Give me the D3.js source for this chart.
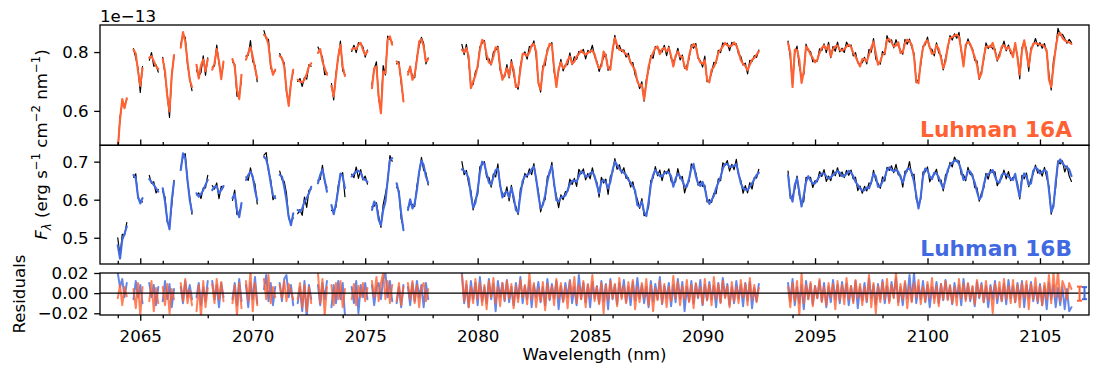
<!DOCTYPE html>
<html>
<head>
<meta charset="utf-8">
<script src="https://cdn.jsdelivr.net/npm/d3@7"></script>
<style>
  body { margin: 0; background: #fff; }
  svg { font-family: "DejaVu Sans", sans-serif; }
</style>
</head>
<body>
<svg id="chart" width="1112" height="371"></svg>
<script>
// spectrum chunks: start wavelength (nm) of each chunk, sampled every 0.1 nm
const segStart = [2064.0, 2064.7, 2065.4, 2066.0, 2066.8, 2067.5, 2068.2, 2069.1, 2069.7, 2070.5,
                  2071.2, 2072.0, 2072.9, 2073.5, 2074.4, 2075.3, 2076.4, 2076.9, 2079.3, 2093.8];
const waveStep = 0.1;

// model flux, units of 1e-16 erg s-1 cm-2 nm-1
const modelA = [
  [470, 570, 640, 609, 643],
  [808, 795, 735, 685, 745],
  [780, 786, 770, 752, 742],
  [776, 735, 650, 598, 720, 790],
  [815, 868, 836, 768, 706, 681],
  [757, 710, 755, 775, 735, 775],
  [740, 762, 810, 768, 708, 768],
  [776, 751, 672, 640, 723],
  [774, 797, 817, 785, 745, 711],
  [859, 851, 825, 757, 723, 740],
  [787, 780, 751, 672, 617, 694, 740],
  [706, 700, 697, 706, 726, 751, 762],
  [797, 810, 768, 745, 723],
  [685, 649, 717, 785, 825, 751, 719],
  [808, 814, 810, 825, 831, 808, 791, 802],
  [677, 745, 751, 649, 592, 734, 728, 842, 853, 825],
  [768, 757, 706, 632],
  [723, 751, 706, 723, 774, 836, 844, 819, 768, 776],
  [808, 799, 814, 785, 677, 700, 719, 753, 808, 842,
   831, 791, 765, 760, 785, 816, 814, 751, 706, 723,
   745, 717, 765, 740, 681, 683, 740, 794, 793, 787,
   799, 823, 828, 802, 694, 672, 742, 772, 802, 828,
   825, 745, 681, 742, 765, 745, 751, 772, 785, 760,
   768, 785, 794, 805, 797, 791, 797, 802, 805, 793,
   763, 745, 751, 802, 785, 745, 740, 808, 848, 825,
   808, 808, 800, 793, 785, 765, 751, 738, 700, 685,
   689, 638, 694, 751, 780, 797, 814, 819, 793, 810,
   814, 802, 814, 787, 751, 787, 802, 785, 783, 751,
   740, 787, 817, 828, 819, 783, 765, 760, 772, 706,
   697, 740, 749, 768, 797, 808, 819, 831, 823, 819,
   822, 833, 822, 802, 772, 760, 753, 738, 757, 774,
   780, 791, 802],
  [831, 797, 681, 808, 808, 774, 695, 734, 819, 810,
   791, 780, 765, 774, 797, 814, 822, 810, 823, 785,
   810, 819, 822, 808, 805, 810, 819, 825, 817, 797,
   785, 768, 751, 776, 776, 768, 791, 814, 836, 797,
   757, 768, 791, 797, 842, 844, 833, 819, 822, 833,
   797, 799, 831, 842, 837, 825, 785, 700, 694, 768,
   814, 833, 840, 817, 794, 797, 824, 810, 780, 745,
   768, 819, 848, 851, 856, 859, 853, 808, 751, 825,
   835, 828, 805, 783, 757, 711, 728, 783, 819, 819,
   817, 831, 802, 774, 785, 819, 823, 810, 817, 805,
   783, 831, 780, 723, 805, 840, 797, 751, 805, 828,
   831, 828, 825, 825, 819, 805, 706, 681, 751, 814,
   859, 865, 848, 840, 836, 833, 828]
];

const modelB = [
  [480, 445, 495, 510, 530],
  [665, 656, 608, 590, 604],
  [654, 647, 639, 630, 621],
  [630, 595, 547, 522, 599, 647],
  [678, 722, 709, 652, 599, 568],
  [617, 608, 615, 625, 639, 652],
  [625, 634, 636, 617, 625, 636],
  [604, 615, 573, 554, 591],
  [652, 665, 674, 661, 625, 599],
  [713, 706, 682, 643, 612, 604],
  [665, 661, 634, 599, 555, 533, 564],
  [573, 568, 577, 595, 604, 617, 634],
  [643, 665, 680, 652, 621],
  [586, 562, 590, 625, 669, 661, 630],
  [661, 668, 674, 676, 671, 656, 652, 647],
  [573, 595, 586, 547, 533, 573, 595, 652, 704, 709],
  [643, 617, 564, 520],
  [573, 601, 577, 590, 625, 674, 703, 691, 661, 645],
  [680, 676, 669, 656, 612, 579, 592, 625, 671, 700,
   694, 669, 645, 639, 659, 678, 682, 639, 606, 617,
   621, 606, 632, 608, 573, 566, 612, 650, 662, 665,
   669, 680, 687, 656, 612, 577, 586, 612, 647, 674,
   689, 643, 599, 595, 606, 608, 611, 625, 641, 650,
   650, 647, 662, 674, 671, 661, 661, 669, 673, 662,
   639, 617, 647, 652, 645, 630, 647, 678, 700, 691,
   682, 674, 671, 665, 652, 645, 636, 624, 586, 582,
   595, 568, 557, 595, 639, 665, 678, 669, 662, 661,
   669, 673, 671, 662, 634, 656, 668, 661, 650, 636,
   634, 656, 682, 694, 662, 643, 636, 647, 630, 601,
   589, 599, 610, 630, 645, 659, 682, 694, 694, 687,
   687, 689, 694, 669, 643, 630, 627, 625, 634, 643,
   654, 665, 671],
  [665, 612, 595, 639, 656, 621, 582, 612, 647, 662,
   650, 643, 643, 652, 662, 669, 669, 662, 656, 659,
   665, 669, 676, 671, 662, 662, 668, 676, 671, 662,
   647, 639, 630, 624, 625, 632, 630, 647, 669, 661,
   634, 636, 647, 659, 678, 685, 678, 675, 678, 674,
   659, 645, 665, 680, 682, 671, 647, 612, 577, 608,
   661, 682, 678, 661, 654, 671, 669, 659, 643, 630,
   652, 678, 691, 697, 702, 704, 694, 678, 652, 656,
   676, 674, 661, 645, 621, 601, 608, 639, 662, 668,
   671, 678, 661, 647, 645, 665, 669, 666, 661, 655,
   652, 668, 634, 608, 652, 669, 662, 639, 643, 676,
   685, 680, 669, 674, 678, 674, 625, 568, 582, 647,
   697, 706, 696, 689, 685, 680, 662]
];

// residuals (data - model), same units
const residA = [
  [-5, 8, -12, 6, -3],
  [4, -15, 10, -22, 6],
  [-8, 12, -18, 5, -10],
  [6, -12, 9, -20, 4, -6],
  [10, -8, 14, -10, 3, -12],
  [-18, 8, -24, 12, -14, 5],
  [9, -10, 14, -6, 11, -8],
  [-10, 8, -22, 10, -15],
  [12, -8, 22, -18, 10, -12],
  [14, -6, 18, -10, 6, -4],
  [8, -5, 12, -8, 9, 2, -6],
  [-6, 10, -14, 8, -18, 6, -10],
  [20, -10, 14, -22, 6],
  [8, -12, 10, -6, 12, -14, 4],
  [-6, 9, -12, 7, -4, 10, -8, 5],
  [12, -4, 16, -8, 10, 20, -6, 12, -10, 8],
  [-8, 10, -12, 6],
  [10, -6, 12, -10, 8, -14, 6, 10, -8, 4],
  [18, -8, 12, -14, 6, -10, 14, -6, 10, -12,
   8, -16, 12, -4, 15, -10, 6, -13, 10, -7,
   12, -5, 9, -15, 7, -9, 13, -4, 8, -11,
   20, -6, 10, -14, 5, -8, 11, -17, 9, -6,
   7, -12, 14, -5, 10, -9, 6, -15, 12, -3,
   16, -10, 8, -6, 12, -14, 9, -4, 18, -8,
   6, -11, 10, -20, 8, -7, 12, -5, 9, -13,
   15, -6, 7, -10, 11, -4, 13, -16, 6, -9,
   10, -5, 14, -12, 8, -18, 5, -7, 12, -10,
   9, -14, 6, -8, 17, -5, 11, -12, 7, -6,
   13, -9, 8, -15, 10, -4, 6, -11, 14, -7,
   8, -12, 16, -6, 9, -10, 12, -5, 7, -14,
   11, -8, 6, -10, 13, -4, 9, -12, 15, -6,
   8, -9, 5],
  [6, -14, 10, -8, 12, -22, 20, -10, 8, -6,
   11, -13, 7, -5, 14, -9, 6, -12, 10, -4,
   9, -16, 12, -7, 8, -11, 15, -6, 7, -10,
   13, -5, 9, -12, 6, -8, 18, -14, 10, -20,
   7, -9, 11, -6, 14, -10, 8, -5, 20, -12,
   9, -6, 12, -15, 7, -9, 10, -4, 13, -11,
   6, -8, 11, -5, 15, -10, 7, -13, 9, -6,
   12, -7, 8, -10, 6, -12, 14, -5, 9, -8,
   10, -6, 7, -11, 13, -4, 8, -9, 12, -7,
   6, -20, 9, -5, 11, -8, 14, -6, 7, -10,
   13, -9, 8, -14, 10, -5, 12, -16, 9, -6,
   15, -8, 7, -12, 10, -6, 18, -10, 20, -4,
   22, -8, 12, 6, -6, 10, 4]
];

const residB = [
  [20, 6, 14, -4, 10],
  [-6, 12, -4, 8, -10],
  [10, -4, 8, -12, 6],
  [-8, 12, -6, 9, -14, 4],
  [6, -10, 12, -4, 8, -6],
  [-4, 10, -12, 6, -8, 12],
  [12, -6, 8, -14, 10, -4],
  [-6, 10, -12, 14, -8],
  [8, -14, 10, -6, 16, -10],
  [4, 18, -8, 10, -12, 6],
  [10, -8, 14, 18, -4, 8, -12],
  [-10, 6, -18, 12, -24, 8, -6],
  [8, -12, 10, -6, 12],
  [-14, 8, -10, 12, -6, 10, -22],
  [6, -10, 12, -20, 8, -4, 10, -6],
  [8, -12, 6, 10, -6, 14, 20, -4, 12, -8],
  [-10, 6, -14, 8],
  [6, -12, 10, -8, 12, -4, 8, -14, 10, -6],
  [20, -10, 8, -14, 12, -6, 10, -12, 16, -8,
   6, -10, 14, -6, 9, -18, 12, -4, 10, -8,
   13, -9, 6, -12, 10, -5, 16, -10, 7, -6,
   12, -14, 8, -4, 11, -9, 6, -12, 14, -7,
   9, -5, 12, -16, 7, -8, 10, -4, 13, -10,
   6, -12, 18, -6, 10, -9, 8, -14, 11, -5,
   7, -10, 12, -8, 9, -16, 14, -6, 8, -11,
   10, -4, 13, -9, 6, -12, 11, -7, 15, -5,
   8, -10, 6, -14, 12, -8, 9, -6, 16, -11,
   7, -5, 10, -13, 8, -9, 14, -6, 11, -18,
   6, -8, 12, -10, 9, -5, 13, -12, 8, -7,
   11, -6, 7, -14, 10, -9, 15, -4, 9, -12,
   6, -10, 12, -5, 8, -13, 10, -7, 11, -15,
   5, -8, 9],
  [10, -8, 14, -12, 6, -10, 8, -16, 12, -6,
   9, -11, 7, -5, 12, -8, 10, -14, 6, -9,
   13, -6, 8, -10, 11, -4, 9, -12, 7, -8,
   12, -15, 6, -7, 10, -9, 14, -5, 8, -11,
   9, -6, 13, -10, 7, -8, 11, -4, 15, -9,
   6, -12, 10, -5, 18, -8, 20, -10, 7, -6,
   12, -9, 8, -14, 6, -5, 11, -10, 9, -7,
   13, -6, 7, -11, 10, -4, 8, -12, 14, -6,
   9, -8, 6, -13, 11, -5, 10, -9, 7, -14,
   8, -6, 12, -10, 5, -8, 9, -11, 13, -5,
   7, -9, 10, -6, 12, -14, 8, -5, 11, -8,
   6, -10, 9, -12, 7, -16, 10, -6, 8, -14,
   5, -12, 6, -16, 4, -18, -14]
];

// typical residual error bars (same units)
const errWave = [2106.76, 2106.98];
const errCenter = [-0.5, 0];
const errHalf = [7, 6];

const majorTicks = [2065, 2070, 2075, 2080, 2085, 2090, 2095, 2100, 2105];
const minorTicks = [2064, 2066, 2068, 2072, 2074, 2076, 2078, 2082, 2084, 2086, 2088,
                    2092, 2094, 2096, 2098, 2102, 2104, 2106];

const orange = '#ff6132', blue = '#4169e1';
const fontSize = '16.67px';

const svg = d3.select('#chart');
svg.append('rect').attr('width', 1112).attr('height', 371).attr('fill', '#fff');

const left = 100, right = 1089;
const x = d3.scaleLinear().domain([2063.21, 2107.18]).range([left, right]);

function buildPoints(model, resid) {
    const pts = [];
    segStart.forEach((w0, s) => {
        model[s].forEach((v, j) => {
            const r = resid[s][j];
            pts.push({ w: w0 + j * waveStep, model: v, resid: r, data: v + r });
        });
        pts.push({ w: null });   // break between chunks
    });
    return pts;
}
const ptsA = buildPoints(modelA, residA);
const ptsB = buildPoints(modelB, residB);

const panels = [
    { id: 'pA', top: 25, bottom: 145.3, domain: [483, 892], ticks: [600, 800],
      fmt: d => (d / 1000).toFixed(1) },
    { id: 'pB', top: 145.3, bottom: 264, domain: [431, 743], ticks: [500, 600, 700],
      fmt: d => (d / 1000).toFixed(1) },
    { id: 'pR', top: 273, bottom: 315, domain: [-21.7, 20], ticks: [-20, 0, 20],
      fmt: d => (d / 1000).toFixed(2).replace('-', '\u2212') }
];
panels.forEach(p => {
    p.y = d3.scaleLinear().domain(p.domain).range([p.bottom, p.top]);
    svg.append('clipPath').attr('id', 'clip-' + p.id)
       .append('rect').attr('x', left).attr('y', p.top)
       .attr('width', right - left).attr('height', p.bottom - p.top);
});

function drawLine(panel, pts, key, color, width, opacity) {
    const line = d3.line()
        .defined(d => d.w !== null)
        .x(d => x(d.w))
        .y(d => panel.y(d[key]));
    svg.append('path')
       .datum(pts)
       .attr('clip-path', `url(#clip-${panel.id})`)
       .attr('d', line)
       .attr('fill', 'none')
       .attr('stroke', color)
       .attr('stroke-width', width)
       .attr('stroke-opacity', opacity)
       .attr('stroke-linejoin', 'round')
       .attr('stroke-linecap', 'round');
}

// spectra: data in black, model on top
drawLine(panels[0], ptsA, 'data', '#000', 1.2, 1);
drawLine(panels[0], ptsA, 'model', orange, 2.1, 1);
drawLine(panels[1], ptsB, 'data', '#000', 1.2, 1);
drawLine(panels[1], ptsB, 'model', blue, 2.1, 1);

// residuals
drawLine(panels[2], ptsB, 'resid', blue, 2.0, 0.8);
drawLine(panels[2], ptsA, 'resid', orange, 2.0, 0.8);
svg.append('line')
   .attr('x1', left).attr('x2', right)
   .attr('y1', panels[2].y(0)).attr('y2', panels[2].y(0))
   .attr('stroke', '#000').attr('stroke-width', 1.3);

// error bars
[orange, blue].forEach((c, i) => {
    const g = svg.append('g').attr('stroke', c).attr('stroke-width', 2);
    const xx = x(errWave[i]);
    const y1 = panels[2].y(errCenter[i] - errHalf[i]), y2 = panels[2].y(errCenter[i] + errHalf[i]);
    g.append('line').attr('x1', xx).attr('x2', xx).attr('y1', y1).attr('y2', y2);
    g.append('line').attr('x1', xx - 2.5).attr('x2', xx + 2.5).attr('y1', y1).attr('y2', y1);
    g.append('line').attr('x1', xx - 2.5).attr('x2', xx + 2.5).attr('y1', y2).attr('y2', y2);
});

function styleAxis(g) {
    g.attr('font-size', null).attr('font-family', null);
    g.select('.domain').remove();
    g.selectAll('line').attr('stroke', '#000').attr('stroke-width', 1.3);
    g.selectAll('text').style('font-size', fontSize).attr('fill', '#000');
}

panels.forEach((p, i) => {
    // y axis
    svg.append('g')
       .attr('transform', `translate(${left},0)`)
       .call(d3.axisLeft(p.y).tickValues(p.ticks).tickFormat(p.fmt).tickSize(5.8).tickPadding(5.5))
       .call(styleAxis);

    // x ticks: inward on the upper panels, outward and labelled on the residuals
    const isBottom = i === 2;
    const sign = isBottom ? 1 : -1;
    const major = d3.axisBottom(x).tickValues(majorTicks).tickSize(5.8 * sign).tickPadding(9.2);
    if (!isBottom) major.tickFormat('');
    else major.tickFormat(d3.format('d'));
    svg.append('g').attr('transform', `translate(0,${p.bottom})`).call(major).call(styleAxis);
    svg.append('g').attr('transform', `translate(0,${p.bottom})`)
       .call(d3.axisBottom(x).tickValues(minorTicks).tickSize(3.3 * sign).tickFormat(''))
       .call(styleAxis);

    // frame
    svg.append('rect')
       .attr('x', left).attr('y', p.top)
       .attr('width', right - left).attr('height', p.bottom - p.top)
       .attr('fill', 'none').attr('stroke', '#000').attr('stroke-width', 1.3);
});

// texts
svg.append('text').attr('x', left).attr('y', 21.5)
   .style('font-size', fontSize).text('1e\u221213');

svg.append('text').attr('x', 1072).attr('y', 137).attr('text-anchor', 'end')
   .style('font-size', '21.7px').style('font-weight', 'bold').attr('fill', orange)
   .text('Luhman 16A');
svg.append('text').attr('x', 1072).attr('y', 256).attr('text-anchor', 'end')
   .style('font-size', '21.7px').style('font-weight', 'bold').attr('fill', blue)
   .text('Luhman 16B');

svg.append('text').attr('x', (left + right) / 2).attr('y', 360).attr('text-anchor', 'middle')
   .style('font-size', fontSize).text('Wavelength (nm)');

svg.append('text').attr('transform', 'translate(24.5,294) rotate(-90)').attr('text-anchor', 'middle')
   .style('font-size', fontSize).text('Residuals');

const yl = svg.append('text').attr('transform', 'translate(47,144.5) rotate(-90)')
   .attr('text-anchor', 'middle').style('font-size', fontSize);
const small = '11.7px';
yl.append('tspan').style('font-style', 'italic').text('F');
yl.append('tspan').style('font-style', 'italic').style('font-size', small).attr('dy', 3.5).text('\u03bb');
yl.append('tspan').attr('dy', -3.5).text(' (erg s');
yl.append('tspan').style('font-size', small).attr('dy', -7).text('\u22121');
yl.append('tspan').attr('dy', 7).text(' cm');
yl.append('tspan').style('font-size', small).attr('dy', -7).text('\u22122');
yl.append('tspan').attr('dy', 7).text(' nm');
yl.append('tspan').style('font-size', small).attr('dy', -7).text('\u22121');
yl.append('tspan').attr('dy', 7).text(')');
</script>
</body>
</html>
